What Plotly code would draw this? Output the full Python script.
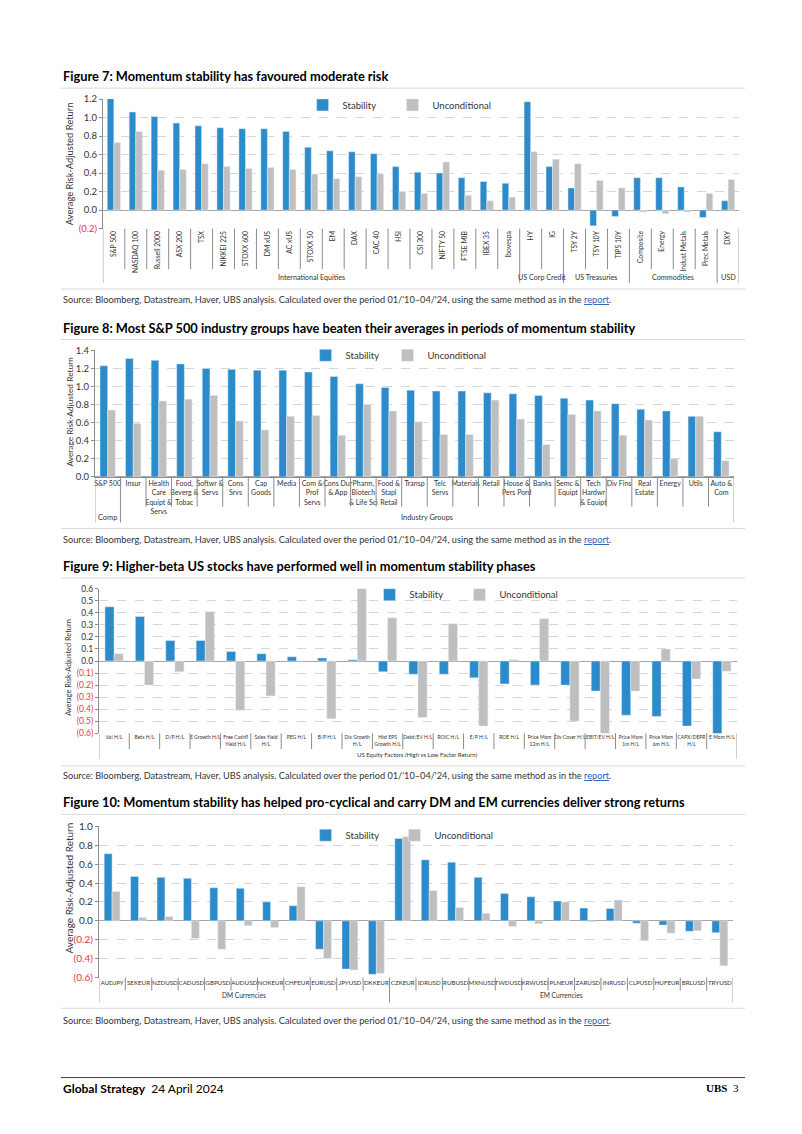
import plotly.graph_objects as go

W, H = 802, 1134
def px(x): return x / W
def py(y): return 1 - y / H

BLUE = "#2B8BCB"
GREY = "#BFBFBF"
RED = "#E4384A"
TXT = "#333333"
LINE = "#8C8C8C"
FONT = "Lato"

# ---------------- Figure 7 data ----------------
cats7 = ["S&P 500", "NASDAQ 100", "Russell 2000", "ASX 200", "TSX", "NIKKEI 225", "STOXX 600",
         "DM xUS", "AC xUS", "STOXX 50", "EM", "DAX", "CAC 40", "HSI", "CSI 300", "NIFTY 50",
         "FTSE MIB", "IBEX 35", "Ibovespa", "HY", "IG", "TSY 2Y", "TSY 10Y", "TIPS 10Y",
         "Composite", "Energy", "Indust Metals", "Prec Metals", "DXY"]
stab7 = [1.22, 1.06, 1.01, 0.94, 0.91, 0.89, 0.88, 0.88, 0.85, 0.68, 0.64, 0.63, 0.61, 0.47, 0.41,
         0.40, 0.35, 0.31, 0.29, 1.17, 0.47, 0.24, -0.17, -0.07, 0.35, 0.35, 0.25, -0.08, 0.10]
unc7 = [0.73, 0.85, 0.43, 0.44, 0.50, 0.47, 0.45, 0.46, 0.44, 0.39, 0.34, 0.36, 0.39, 0.20, 0.18,
        0.52, 0.16, 0.10, 0.14, 0.63, 0.55, 0.50, 0.32, 0.24, -0.02, -0.04, -0.02, 0.18, 0.33]
groups7 = [("International Equities", 0, 18), ("US Corp Credit", 19, 20), ("US Treasuries", 21, 23),
           ("Commodities", 24, 27), ("USD", 28, 28)]

# ---------------- Figure 8 data ----------------
cats8 = ["S&P 500", "Insur", "Health<br>Care<br>Equipt &<br>Servs", "Food,<br>Beverg &<br>Tobac",
         "Softwr &<br>Servs", "Cons<br>Srvs", "Cap<br>Goods", "Media", "Com &<br>Prof<br>Servs",
         "Cons Dur<br>& App", "Pharm,<br>Biotech<br>& Life Sci", "Food &<br>Stapl<br>Retail", "Transp",
         "Telc<br>Servs", "Materials", "Retail", "House &<br>Pers Pord", "Banks", "Semc &<br>Equipt",
         "Tech<br>Hardwr<br>& Equipt", "Div Fins", "Real<br>Estate", "Energy", "Utils", "Auto &<br>Com"]
stab8 = [1.23, 1.31, 1.29, 1.25, 1.20, 1.19, 1.18, 1.18, 1.16, 1.11, 1.03, 0.99, 0.96, 0.95, 0.95,
         0.93, 0.92, 0.90, 0.87, 0.85, 0.81, 0.75, 0.73, 0.67, 0.50]
unc8 = [0.74, 0.59, 0.84, 0.86, 0.90, 0.62, 0.52, 0.67, 0.68, 0.46, 0.80, 0.73, 0.61, 0.47, 0.47,
        0.85, 0.64, 0.36, 0.69, 0.73, 0.46, 0.63, 0.20, 0.67, 0.18]
groups8 = [("Comp", 0, 0), ("Industry Groups", 1, 24)]

# ---------------- Figure 9 data ----------------
cats9 = ["Vol H/L", "Beta H/L", "D/P H/L", "E Growth H/L", "Free Cashfl<br>Yield H/L",
         "Sales Yield<br>H/L", "PEG H/L", "B/P H/L", "Div Growth<br>H/L", "Hist EPS<br>Growth H/L",
         "Debt/EV H/L", "ROIC H/L", "E/P H/L", "ROE H/L", "Price Mom<br>12m H/L", "Div Cover H/L",
         "EBIT/EV H/L", "Price Mom<br>1m H/L", "Price Mom<br>6m H/L", "CAPX/DEPR<br>H/L", "E Mom H/L"]
stab9 = [0.45, 0.37, 0.17, 0.17, 0.08, 0.06, 0.035, 0.025, 0.01, -0.09, -0.11, -0.11, -0.14, -0.19,
         -0.20, -0.20, -0.25, -0.45, -0.46, -0.54, -0.61]
unc9 = [0.06, -0.20, -0.09, 0.41, -0.41, -0.29, 0.003, -0.48, 0.61, 0.36, -0.47, 0.31, -0.54, 0.01,
        0.35, -0.50, -0.61, -0.25, 0.10, -0.15, -0.085]
groups9 = [("US Equity Factors (High vs Low Factor Return)", 0, 20)]

# ---------------- Figure 10 data ----------------
cats10 = ["AUDJPY", "SEKEUR", "NZDUSD", "CADUSD", "GBPUSD", "AUDUSD", "NOKEUR", "CHFEUR", "EURUSD",
          "JPYUSD", "DKKEUR", "CZKEUR", "IDRUSD", "RUBUSD", "MXNUSD", "TWDUSD", "KRWUSD", "PLNEUR",
          "ZARUSD", "INRUSD", "CLPUSD", "HUFEUR", "BRLUSD", "TRYUSD"]
stab10 = [0.71, 0.47, 0.46, 0.45, 0.35, 0.345, 0.20, 0.16, -0.30, -0.51, -0.565, 0.87, 0.645, 0.62,
          0.46, 0.29, 0.255, 0.21, 0.135, 0.13, -0.025, -0.045, -0.11, -0.125]
unc10 = [0.31, 0.035, 0.045, -0.185, -0.30, -0.05, -0.07, 0.36, -0.40, -0.52, -0.555, 0.89, 0.32,
         0.14, 0.08, -0.06, -0.03, 0.20, -0.01, 0.22, -0.21, -0.13, -0.105, -0.475]
groups10 = [("DM Currencies", 0, 10), ("EM Currencies", 11, 23)]

titles = ["Figure 7: Momentum stability has favoured moderate risk",
          "Figure 8: Most S&P 500 industry groups have beaten their averages in periods of momentum stability",
          "Figure 9: Higher-beta US stocks have performed well in momentum stability phases",
          "Figure 10: Momentum stability has helped pro-cyclical and carry DM and EM currencies deliver strong returns"]
source = ("Source: Bloomberg, Datastream, Haver, UBS analysis. Calculated over the period 01/'10\u201304/'24, "
          "using the same method as in the <span style='color:#1F5FBF;text-decoration:underline'>report</span>.")

panels = [
    dict(cats=cats7, stab=stab7, unc=unc7, groups=groups7, x0=102, x1=739, ytop=93, ybot=224,
         yr=(-0.2, 1.2), step=0.2, tickangle=-90, tfs=6.8, inner_end=265, group_end=279, glabel=273,
         leg=(336, 426, 99), title_y=70, src_y=296, frame=(82, 285), ylab=(68, 158, 9.4), ytfs=9.5,
         showx=False),
    dict(cats=cats8, stab=stab8, unc=unc8, groups=groups8, x0=94, x1=734, ytop=347, ybot=475,
         yr=(0, 1.4), step=0.2, tickangle=0, tfs=7, inner_end=505, group_end=521, glabel=516,
         leg=(339, 421, 352), title_y=324, src_y=538, frame=(336, 527), ylab=(69, 409, 8.4), ytfs=9.5,
         showx=True),
    dict(cats=cats9, stab=stab9, unc=unc9, groups=groups9, x0=98, x1=737, ytop=588, ybot=734,
         yr=(-0.6, 0.6), step=0.1, tickangle=0, tfs=5.0, inner_end=750, group_end=760, glabel=755,
         leg=(403, 493, 594), title_y=565, src_y=777, frame=(577, 767), ylab=(68, 667, 7.4), ytfs=8.5,
         showx=False),
    dict(cats=cats10, stab=stab10, unc=unc10, groups=groups10, x0=98, x1=733, ytop=828, ybot=981,
         yr=(-0.6, 1.0), step=0.2, tickangle=0, tfs=6.2, inner_end=994, group_end=1006, glabel=999,
         leg=(339, 428, 837), title_y=804, src_y=1024, frame=(816, 1012), ylab=(68, 890, 10), ytfs=10,
         showx=False),
]


def yticks(lo, hi, step):
    vals, texts = [], []
    n = int(round((hi - lo) / step))
    for i in range(n + 1):
        v = round(lo + i * step, 6)
        vals.append(v)
        if v < -1e-9:
            texts.append(f"<span style='color:{RED}'>({abs(v):.1f})</span>")
        else:
            texts.append(f"{v:.1f}")
    return vals, texts


fig = go.Figure()
shapes, annos = [], []
layout = dict(width=W, height=H, margin=dict(l=0, r=0, t=0, b=0), paper_bgcolor="white",
              plot_bgcolor="white", barmode="group", bargap=0.4, bargroupgap=0.0,
              font=dict(family=FONT, color=TXT), showlegend=True)

leg_n = 0
for i, p in enumerate(panels, start=1):
    xa, ya = f"x{i}", f"y{i}"
    txt_s, txt_u, ly = p["leg"]
    legs = []
    for tx in (txt_s, txt_u):
        leg_n += 1
        lname = "legend" if leg_n == 1 else f"legend{leg_n}"
        legs.append(lname)
        layout[lname] = dict(orientation="h", x=px(tx - 34), y=py(ly), xanchor="left",
                             yanchor="middle", font=dict(size=9.5, family=FONT, color=TXT),
                             bgcolor="rgba(0,0,0,0)", itemwidth=30, borderwidth=0)
    fig.add_trace(go.Bar(x=p["cats"], y=p["stab"], name="Stability", marker_color=BLUE,
                         xaxis=xa, yaxis=ya, legend=legs[0]))
    fig.add_trace(go.Bar(x=p["cats"], y=p["unc"], name="Unconditional", marker_color=GREY,
                         xaxis=xa, yaxis=ya, legend=legs[1]))
    tv, tt = yticks(p["yr"][0], p["yr"][1], p["step"])
    layout[f"xaxis{i}"] = dict(domain=[px(p["x0"]), px(p["x1"])], anchor=ya, type="category",
                               showgrid=False, ticks="", tickangle=p["tickangle"],
                               tickfont=dict(size=p["tfs"], color=TXT, family=FONT),
                               showline=p["showx"], linecolor=LINE, linewidth=1,
                               range=[-0.5, len(p["cats"]) - 0.5], fixedrange=True)
    layout[f"yaxis{i}"] = dict(domain=[py(p["ybot"]), py(p["ytop"])], anchor=xa,
                               range=list(p["yr"]), tickvals=tv, ticktext=tt,
                               tickfont=dict(size=p["ytfs"], color=TXT, family=FONT),
                               showgrid=True, gridcolor="#D6D6D6", griddash="dash", gridwidth=1,
                               zeroline=True, zerolinecolor="#A6A6A6", zerolinewidth=1,
                               showline=True, linecolor=LINE, linewidth=1,
                               ticks="outside", ticklen=3, tickcolor=LINE, fixedrange=True)
    n = len(p["cats"])
    gb = set()
    for _, a, b in p["groups"]:
        gb.add(a)
        gb.add(b + 1)
    for j in range(n + 1):
        end = p["group_end"] if j in gb else p["inner_end"]
        shapes.append(dict(type="line", xref=xa, yref="paper", x0=j - 0.5, x1=j - 0.5,
                           y0=py(p["ybot"]), y1=py(end), line=dict(color=LINE, width=1)))
    for name, a, b in p["groups"]:
        annos.append(dict(text=name, xref=xa, yref="paper", x=(a + b) / 2, y=py(p["glabel"]),
                          showarrow=False, xanchor="center", yanchor="middle",
                          font=dict(size=max(p["tfs"], 5.6) + 0.4, color=TXT, family=FONT)))
    yx, yy, yfs = p["ylab"]
    annos.append(dict(text="Average Risk-Adjusted Return", xref="paper", yref="paper", x=px(yx),
                      y=py(yy), textangle=-90, showarrow=False, xanchor="center", yanchor="middle",
                      font=dict(size=yfs, color=TXT, family=FONT)))
    annos.append(dict(text=f"<b>{titles[i-1]}</b>", xref="paper", yref="paper", x=px(60),
                      y=py(p["title_y"]), showarrow=False, xanchor="left", yanchor="middle",
                      font=dict(size=12.8, color="#000000", family=FONT)))
    annos.append(dict(text=source, xref="paper", yref="paper", x=px(60), y=py(p["src_y"]),
                      showarrow=False, xanchor="left", yanchor="middle",
                      font=dict(size=9.2, color=TXT, family=FONT)))
    for fy in p["frame"]:
        shapes.append(dict(type="line", xref="paper", yref="paper", x0=px(60), x1=px(745),
                           y0=py(fy), y1=py(fy), line=dict(color="#D9D9D9", width=1)))

shapes.append(dict(type="line", xref="paper", yref="paper", x0=px(60), x1=px(745),
                   y0=py(1082), y1=py(1082), line=dict(color="#404040", width=1)))
annos.append(dict(text="<b>Global Strategy</b>  24 April 2024", xref="paper", yref="paper",
                  x=px(60), y=py(1093), showarrow=False, xanchor="left", yanchor="middle",
                  font=dict(size=12, color="#000000", family=FONT)))
annos.append(dict(text="<b>UBS</b>  3", xref="paper", yref="paper", x=px(741), y=py(1093),
                  showarrow=False, xanchor="right", yanchor="middle",
                  font=dict(size=11, color="#000000", family="Liberation Serif")))

layout["shapes"] = shapes
layout["annotations"] = annos
fig.update_layout(**layout)
fig.write_html("out.html", config={"displayModeBar": False},
               post_script="document.body.style.margin='0px';document.documentElement.style.overflow='hidden';")
